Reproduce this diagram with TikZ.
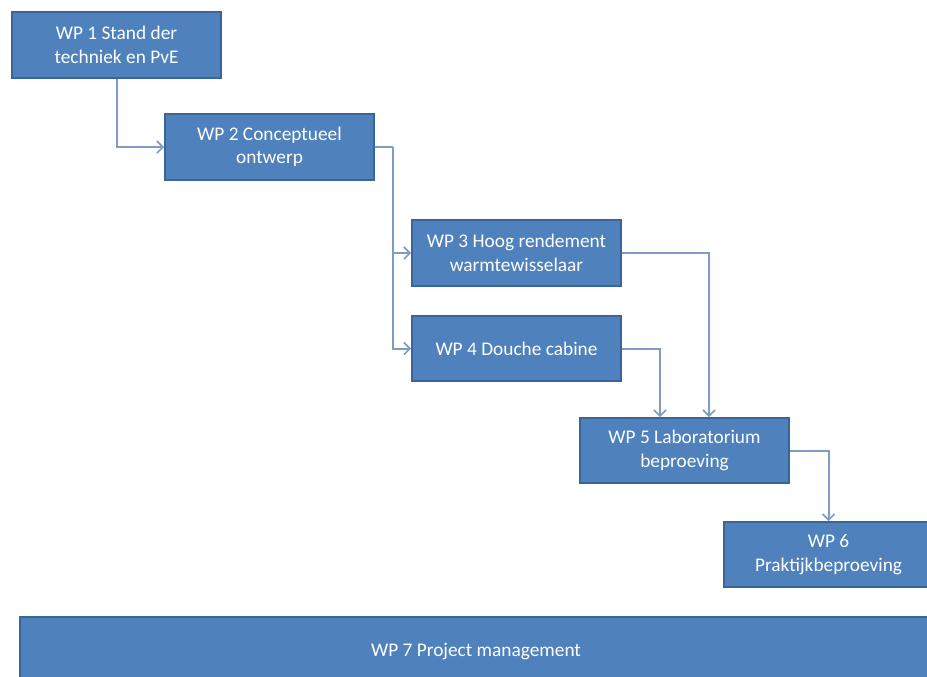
\documentclass[tikz,border=0pt]{standalone}
\usepackage{fontspec}
\setmainfont{Carlito}
\usetikzlibrary{arrows.meta,calc}
\definecolor{boxfill}{HTML}{4F81BD}
\definecolor{boxline}{HTML}{3A6597}
\definecolor{conn}{HTML}{7F9CC4}
\begin{document}
\begin{tikzpicture}[x=0.75pt,y=-0.75pt,
  wpbox/.style={rectangle,fill=boxfill,draw=boxline,line width=1.2pt,
    minimum width=209*0.75pt,minimum height=66*0.75pt,inner sep=0pt,
    text=white,align=center,font=\fontsize{14.5}{17.5}\selectfont},
  link/.style={draw=conn,line width=1.5pt,-{Straight Barb[length=4.5pt,width=9pt,line width=1.3pt]}}]
\useasboundingbox (0,0) rectangle (927,676);
\clip (0,0) rectangle (927,676);
\node[wpbox] (wp1) at (116.5,45) {WP 1 Stand der\\techniek en PvE};
\node[wpbox] (wp2) at (269.5,147) {WP 2 Conceptueel\\ontwerp};
\node[wpbox] (wp3) at (516.5,253) {WP 3 Hoog rendement\\warmtewisselaar};
\node[wpbox,minimum height=65*0.75pt] (wp4) at (516.5,348.5) {WP 4 Douche cabine};
\node[wpbox,minimum height=65*0.75pt] (wp5) at (684.5,450.5) {WP 5 Laboratorium\\beproeving};
\node[wpbox,minimum height=65*0.75pt] (wp6) at (828.5,554.5) {WP 6\\Praktijkbeproeving};
\node[wpbox,minimum width=912*0.75pt,minimum height=68*0.75pt] (wp7) at (476,651) {WP 7 Project management};
\coordinate (j2) at (393,147);
\draw[link] (wp1.south) |- (wp2.west);
\draw[draw=conn,line width=1.5pt] (wp2.east) -- (j2);
\draw[link] (j2) |- (wp3.west);
\draw[link] (j2) |- (wp4.west);
\draw[link] (wp3.east) -| ($(wp5.north)+(24.5,0)$);
\draw[link] (wp4.east) -| ($(wp5.north)+(-24.5,0)$);
\draw[link] (wp5.east) -| (wp6.north);
\end{tikzpicture}
\end{document}
